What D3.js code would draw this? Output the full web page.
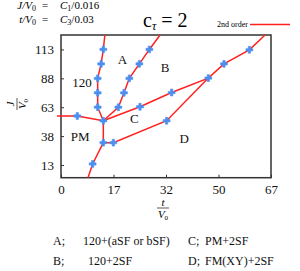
<!DOCTYPE html>
<html>
<head>
<meta charset="utf-8">
<script src="https://cdn.jsdelivr.net/npm/d3@7"></script>
<style>
  body { margin: 0; background: #fff; }
  svg { display: block; font-family: "Liberation Serif", "DejaVu Serif", serif; }
</style>
</head>
<body>
<div id="container"></div>
<script>
const width = 300;
const height = 271;
const frame = { left: 61, right: 271, top: 35, bottom: 177.7 };

// axis ticks (labels as printed, evenly spaced positions)
const xTickValues = [0, 16.75, 33.5, 50.25, 67];
const xTickLabels = ["0", "17", "32", "50", "67"];
const yTickValues = [12.5, 37.5, 62.5, 87.5, 112.5];
const yTickLabels = ["13", "38", "63", "88", "113"];

// phase boundaries, [t/V0, J/V0]
const lineA120 = [[14.0, 125], [13.5, 112.5], [12.8, 100], [11.7, 87.5], [11.7, 75], [11.7, 62.5], [13.5, 50.8]];
const lineAB = [[13.5, 50.8], [18.3, 62.5], [20.1, 75], [21.8, 87.5], [25.0, 100], [28.2, 112.5], [31.6, 125]];
const linePMC = [[-1.3, 54.9], [5.2, 54.9], [13.5, 50.8]];
const lineCB = [[13.5, 50.8], [25.2, 62.9], [35.3, 75.2], [47.0, 87.7], [52.0, 100], [60.1, 112.2], [65.1, 125]];
const lineCD = [[13.5, 50.8], [13.5, 31.8], [16.7, 31.8], [33.7, 50.8], [47.0, 87.7]];
const linePMD = [[13.5, 31.8], [10.1, 13.4], [8.6, 1.5]];
const boundaries = [lineA120, lineAB, linePMC, lineCB, lineCD, linePMD];

// computed points (markers)
const markerPoints = [
  [13.5, 112.5], [12.8, 100], [11.7, 87.5], [11.7, 75], [11.7, 62.5],
  [18.3, 62.5], [20.1, 75], [21.8, 87.5], [25.0, 100], [28.2, 112.5],
  [13.5, 50.8], [5.2, 54.9],
  [25.2, 62.9], [35.3, 75.2], [47.0, 87.7], [52.0, 100], [60.1, 112.2],
  [13.5, 31.8], [16.7, 31.8], [33.7, 50.8], [10.1, 13.4]
];

const regionLabels = [
  { text: "120", t: 6.7, j: 84 },
  { text: "A", t: 19.6, j: 104 },
  { text: "B", t: 33.2, j: 97 },
  { text: "C", t: 23.4, j: 53 },
  { text: "PM", t: 6.1, j: 37 },
  { text: "D", t: 39.3, j: 35.5 }
];

const legendRows = [
  ["A;", "120+(aSF or bSF)", "C;", "PM+2SF"],
  ["B;", "120+2SF", "D;", "FM(XY)+2SF"]
];

const svg = d3.select("#container").append("svg")
  .attr("width", width)
  .attr("height", height);

const x = d3.scaleLinear().domain([0, 67]).range([frame.left, frame.right]);
const y = d3.scaleLinear().domain([1.5, 125]).range([frame.bottom, frame.top]);

// header equations
const header = svg.append("g").attr("font-size", 11);
[["J", "1", "0.016", 8.5], ["t", "3", "0.03", 23]].forEach(([v, c, k, by]) => {
  const left = header.append("text").attr("x", 36).attr("y", by).attr("text-anchor", "end");
  left.append("tspan").attr("font-style", "italic").text(v + "/V");
  left.append("tspan").attr("font-size", 8).attr("dy", 2).text("0");
  header.append("text").attr("x", 45).attr("y", by).attr("text-anchor", "middle").text("=");
  const right = header.append("text").attr("x", 60).attr("y", by);
  right.append("tspan").attr("font-style", "italic").text("C");
  right.append("tspan").attr("font-size", 8).attr("dy", 2).text(c);
  right.append("tspan").attr("dy", -2).text("/" + k);
});

// title
const title = svg.append("text").attr("x", 143).attr("y", 27).attr("font-size", 20);
title.append("tspan").text("c");
title.append("tspan").attr("font-size", 12).attr("dy", 3).attr("font-style", "italic").text("τ");
title.append("tspan").attr("dy", -3).text(" = 2");

// legend
svg.append("text").attr("x", 248).attr("y", 27).attr("font-size", 8)
  .attr("text-anchor", "end").text("2nd order");
svg.append("line").attr("x1", 250).attr("x2", 290).attr("y1", 24.5).attr("y2", 24.5)
  .attr("stroke", "#ff2020").attr("stroke-width", 1.3);

// axes (inward ticks)
const xAxis = svg.append("g")
  .attr("transform", `translate(0,${frame.bottom})`)
  .call(d3.axisBottom(x).tickValues(xTickValues).tickSizeInner(-3).tickSizeOuter(0)
    .tickPadding(7).tickFormat((d, i) => xTickLabels[i]));
const yAxis = svg.append("g")
  .attr("transform", `translate(${frame.left},0)`)
  .call(d3.axisLeft(y).tickValues(yTickValues).tickSizeInner(-3).tickSizeOuter(0)
    .tickPadding(7).tickFormat((d, i) => yTickLabels[i]));
[xAxis, yAxis].forEach((g) => {
  g.select(".domain").remove();
  g.selectAll("line").attr("stroke", "#333");
  g.selectAll("text").attr("font-size", 13).attr("font-family", "Liberation Serif").attr("fill", "#111");
});

// frame
svg.append("rect")
  .attr("x", frame.left).attr("y", frame.top)
  .attr("width", frame.right - frame.left).attr("height", frame.bottom - frame.top)
  .attr("fill", "none").attr("stroke", "#333").attr("stroke-width", 1.5);

// boundaries
const line = d3.line().x((d) => x(d[0])).y((d) => y(d[1]));
svg.append("g").selectAll("path").data(boundaries).join("path")
  .attr("d", line).attr("fill", "none")
  .attr("stroke", "#ff2020").attr("stroke-width", 1.5);

svg.append("g").selectAll("path").data(markerPoints).join("path")
  .attr("transform", (d) => `translate(${x(d[0])},${y(d[1])})`)
  .attr("d", d3.symbol().type(d3.symbolCross).size(26))
  .attr("fill", "#4a8ff0")
  .attr("stroke", "#4a8ff0").attr("stroke-width", 0.6).attr("stroke-linejoin", "round");

// region labels
svg.append("g").selectAll("text").data(regionLabels).join("text")
  .attr("x", (d) => x(d.t)).attr("y", (d) => y(d.j))
  .attr("text-anchor", "middle").attr("dominant-baseline", "central")
  .attr("font-size", 13).attr("fill", "#111")
  .text((d) => d.text);

// y label fraction
const yl = svg.append("g").attr("transform", "translate(17,104) rotate(-90)").attr("font-size", 11);
yl.append("text").attr("y", -3).attr("text-anchor", "middle").attr("font-style", "italic").text("J");
yl.append("line").attr("x1", -6).attr("x2", 6).attr("y1", 0).attr("y2", 0).attr("stroke", "#111").attr("stroke-width", 0.7);
const ylv = yl.append("text").attr("y", 9).attr("text-anchor", "middle");
ylv.append("tspan").attr("font-style", "italic").text("V");
ylv.append("tspan").attr("font-size", 7).attr("dy", 2).text("0");

// x label fraction
const xl = svg.append("g").attr("transform", "translate(163,208)").attr("font-size", 11);
xl.append("text").attr("y", -2).attr("text-anchor", "middle").attr("font-style", "italic").text("t");
xl.append("line").attr("x1", -6).attr("x2", 6).attr("stroke", "#111").attr("stroke-width", 0.7);
const xlv = xl.append("text").attr("y", 10).attr("text-anchor", "middle");
xlv.append("tspan").attr("font-style", "italic").text("V");
xlv.append("tspan").attr("font-size", 7).attr("dy", 2).text("0");

// phase legend below
const colX = [53, 83, 188, 205];
svg.append("g").attr("font-size", 12).attr("fill", "#111")
  .selectAll("g").data(legendRows).join("g")
  .attr("transform", (d, i) => `translate(0,${245 + i * 20})`)
  .selectAll("text").data((d) => d).join("text")
  .attr("x", (d, i) => colX[i] + (i === 1 && d.length < 10 ? 5 : 0))
  .text((d) => d);
</script>
</body>
</html>
